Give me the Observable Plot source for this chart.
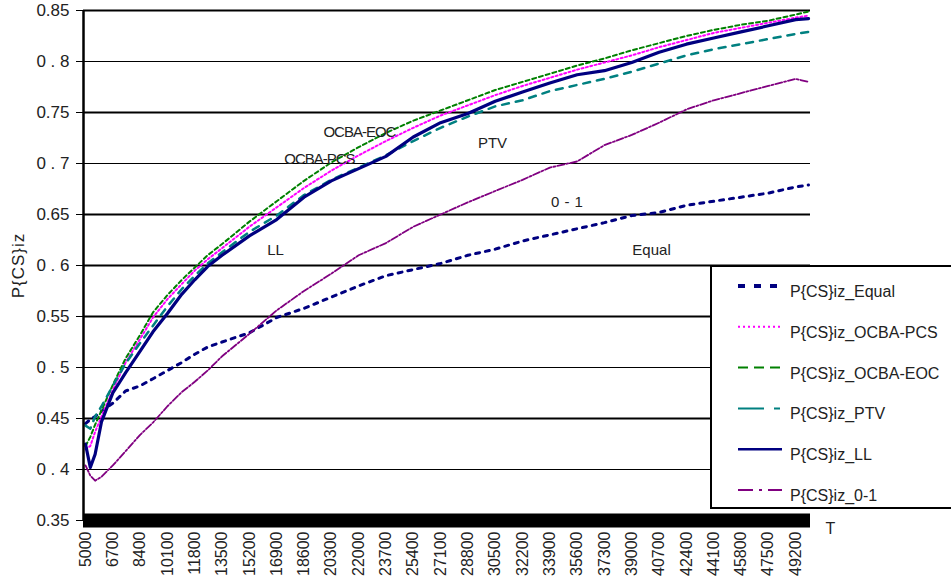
<!DOCTYPE html>
<html><head><meta charset="utf-8">
<script src="https://cdn.jsdelivr.net/npm/d3@7"></script>
<script src="https://cdn.jsdelivr.net/npm/@observablehq/plot@0.6"></script>
<style>
body{margin:0;background:#fff;}
#wrap{position:relative;width:951px;height:581px;overflow:hidden;background:#fff;font-family:"Liberation Sans",Arial,sans-serif;}
#legend{position:absolute;left:710px;top:265px;}
</style></head><body><div id="wrap"></div>
<script>
// ---- data ----
const T = [5000,5300,5600,6000,6700,7500,8400,9200,10100,11000,11800,12600,13500,15200,16900,18600,20300,22000,23700,25400,27100,28800,30500,32200,33900,35600,37300,39000,40700,42400,44100,45800,47500,49200,50000];
const equal = [0.445,0.449,0.452,0.457,0.465,0.477,0.482,0.489,0.497,0.505,0.513,0.520,0.525,0.534,0.549,0.558,0.569,0.580,0.590,0.596,0.602,0.610,0.616,0.624,0.630,0.636,0.642,0.649,0.652,0.659,0.663,0.667,0.671,0.677,0.679];
const ocbaPcs = [0.420,0.423,0.437,0.452,0.478,0.505,0.528,0.549,0.567,0.582,0.595,0.606,0.617,0.638,0.657,0.676,0.693,0.708,0.722,0.735,0.747,0.757,0.767,0.776,0.784,0.792,0.799,0.806,0.814,0.821,0.828,0.833,0.838,0.843,0.845];
const ocbaEoc = [0.423,0.432,0.444,0.458,0.483,0.509,0.532,0.554,0.571,0.586,0.598,0.610,0.621,0.643,0.663,0.683,0.701,0.716,0.730,0.742,0.752,0.762,0.772,0.780,0.788,0.796,0.803,0.811,0.818,0.825,0.831,0.836,0.840,0.846,0.849];
const ptv = [0.443,0.440,0.452,0.462,0.482,0.504,0.524,0.541,0.560,0.577,0.590,0.602,0.613,0.633,0.649,0.669,0.684,0.696,0.708,0.722,0.735,0.746,0.756,0.762,0.771,0.777,0.783,0.790,0.798,0.806,0.812,0.817,0.822,0.827,0.829];
const ll = [0.425,0.402,0.415,0.447,0.475,0.495,0.516,0.535,0.553,0.572,0.586,0.599,0.610,0.629,0.645,0.667,0.683,0.695,0.707,0.726,0.740,0.749,0.761,0.770,0.779,0.787,0.791,0.799,0.809,0.817,0.823,0.829,0.835,0.841,0.842];
const zeroOne = [0.404,0.394,0.389,0.393,0.404,0.418,0.434,0.446,0.462,0.476,0.486,0.497,0.511,0.533,0.556,0.575,0.592,0.610,0.622,0.638,0.650,0.662,0.673,0.684,0.696,0.702,0.718,0.728,0.740,0.753,0.762,0.769,0.776,0.783,0.780];

const seriesNames = ["P{CS}iz_Equal","P{CS}iz_OCBA-PCS","P{CS}iz_OCBA-EOC","P{CS}iz_PTV","P{CS}iz_LL","P{CS}iz_0-1"];
const seriesValues = [equal, ocbaPcs, ocbaEoc, ptv, ll, zeroOne];
const seriesColors = ["#000080","#ff00ff","#008000","#008080","#000080","#800080"];

const xTicks = d3.range(5000, 49201, 1700);
const yTicks = [0.35,0.4,0.45,0.5,0.55,0.6,0.65,0.7,0.75,0.8,0.85];
const yThick = [0.45,0.55,0.6,0.65,0.75,0.85];
const yThin = [0.4,0.5,0.7,0.8];

const labelText = ["OCBA-EOC","OCBA-PCS","PTV","0-1","LL","Equal"];
const labelT = [22050,19560,30330,35120,16830,40230];
const labelV = [0.731,0.704,0.720,0.662,0.615,0.615];

// ---- styles ----
const plotStyles = [
  {strokeWidth:3, strokeDasharray:"4,6"},
  {strokeWidth:2, strokeDasharray:"2,2.5"},
  {strokeWidth:2, strokeDasharray:"4,3"},
  {strokeWidth:2.5, strokeDasharray:"7,7"},
  {strokeWidth:3.2},
  {strokeWidth:1.8, strokeDasharray:"7,2,2,2"}
];
const legendStyles = [
  {w:4, dash:"7,9"},
  {w:2, dash:"2,3"},
  {w:2, dash:"10,6"},
  {w:2, dash:"26,10,6,100"},
  {w:2.5, dash:null},
  {w:2, dash:"15,6,3,6"}
];

const xDomain = [4876, 50124];
const annotations = labelText.map((s,i)=>({s, T:labelT[i], v:labelV[i]}));

const lineMarks = seriesValues.map((vals,i)=>
  Plot.line(T.map((t,j)=>({T:t, v:vals[j]})), {x:"T", y:"v", stroke:seriesColors[i], ...plotStyles[i]})
);

const chart = Plot.plot({
  width:951, height:581,
  marginLeft:83, marginRight:141, marginTop:10, marginBottom:61,
  x:{domain:xDomain}, y:{domain:[0.35,0.85]},
  style:{fontFamily:"'Liberation Sans', Arial, sans-serif", fontSize:"16px", color:"#222", background:"#fff"},
  marks:[
    Plot.ruleY(yThick, {stroke:"#000", strokeWidth:2}),
    Plot.ruleY(yThin, {stroke:"#000", strokeWidth:1}),
    ...lineMarks,
    Plot.ruleY([yTicks[0]], {stroke:"#000", strokeWidth:14}),
    Plot.ruleX([xDomain[0]], {stroke:"#000", strokeWidth:2.5}),
    Plot.axisY({ticks:yTicks, tickSize:7, tickPadding:7, fontSize:17, label:null, stroke:"#000",
      tickFormat:d=> (Math.round(d*100)%10===0) ? d.toFixed(1).split("").join(" ") : d.toFixed(2)}),
    Plot.axisX({ticks:xTicks, tickRotate:-90, tickSize:0, tickPadding:11, fontSize:16, label:null, tickFormat:d=>String(d)}),
    Plot.text(annotations, {x:"T", y:"v", text:"s", fontSize:15, fill:"#222"}),
    Plot.text(["P{CS}iz"], {frameAnchor:"left", dx:-65, rotate:-90, textAnchor:"middle", lineAnchor:"middle", fontSize:17, fill:"#222"}),
    Plot.text(["T"], {frameAnchor:"bottom-right", dx:20, dy:8, textAnchor:"middle", lineAnchor:"middle", fontSize:16, fill:"#222"})
  ]
});
d3.select(chart).selectAll("text").filter(function(){return /^OCBA/.test(this.textContent);}).attr("letter-spacing","-1");
d3.select(chart).selectAll("text").filter(function(){return this.textContent==="0-1";}).attr("letter-spacing","5");
d3.select(chart).selectAll("text").filter(function(){return this.textContent==="P{CS}iz";}).attr("letter-spacing","1");
document.getElementById("wrap").appendChild(chart);

// ---- legend ----
const leg = d3.select("#wrap").append("svg").attr("id","legend").attr("width",241).attr("height",245);
leg.append("rect").attr("x",1).attr("y",1).attr("width",300).attr("height",242).attr("fill","#fff").attr("stroke","#000").attr("stroke-width",2);
seriesNames.forEach((name,i)=>{
  const y = 21 + i*40.8;
  const ln = leg.append("line").attr("x1",28).attr("x2",72).attr("y1",y).attr("y2",y)
    .attr("stroke",seriesColors[i]).attr("stroke-width",legendStyles[i].w);
  if (legendStyles[i].dash) ln.attr("stroke-dasharray",legendStyles[i].dash);
  leg.append("text").attr("x",80).attr("y",y+11).attr("font-size",16).attr("fill","#222")
    .attr("font-family","'Liberation Sans', Arial, sans-serif").text(name);
});
</script></body></html>
